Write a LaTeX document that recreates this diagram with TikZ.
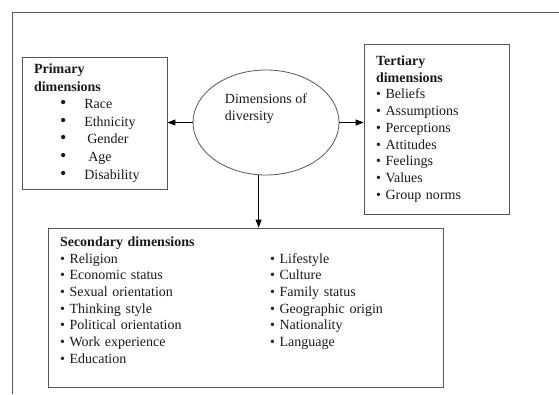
\documentclass[tikz,border=0pt]{standalone}
\usepackage{fontspec}
\setmainfont{Liberation Serif}
\usetikzlibrary{shapes.geometric}
\usetikzlibrary{arrows.meta}
\definecolor{rahmen}{RGB}{85,85,85}
\definecolor{schrift}{RGB}{25,25,25}
\newcommand{\pitem}[1]{\hspace*{26pt}{\fontsize{18}{17.6}\selectfont\textbullet}\hspace{18pt}#1}
\newcommand{\titem}[1]{\textbullet~#1}

\begin{document}
\begin{tikzpicture}[x=1pt, y=-1pt, schrift,
    dimbox/.style={draw=rahmen, line width=0.8pt, rectangle, inner xsep=12pt, inner ysep=0pt, align=left},
    dimel/.style={draw=rahmen, line width=0.8pt, ellipse, minimum width=146pt, minimum height=105pt, inner sep=0pt},
    pfeil/.style={draw=black, line width=0.9pt, -{Triangle[length=8pt, width=6pt]}}]

    \useasboundingbox (0,0) rectangle (559,394);
    % frame of the page (top and left only)
    \draw[rahmen, line width=0.8pt] (559,12.5) -| (12,394);

    \node[dimel] (dims) at (266,122.5) {};
    \node[align=left, font=\fontsize{14}{17}\selectfont] (dimstext) at ([yshift=14pt]dims.center) {Dimensions of\\diversity};

    \node[dimbox, minimum width=145pt, minimum height=132pt, text width=121pt,
          font=\fontsize{14}{17.6}\selectfont] (prim) at (94.5,123)
        {\textbf{Primary}\\\textbf{dimensions}\\\pitem{Race}\\\pitem{Ethnicity}\\\pitem{\hspace{3pt}Gender}\\\pitem{\hspace{4pt}Age}\\\pitem{Disability}};

    \node[dimbox, minimum width=145pt, minimum height=170pt, text width=121pt,
          font=\fontsize{14}{16.7}\selectfont] (tert) at (436.5,129)
        {\textbf{Tertiary}\\\textbf{dimensions}\\\titem{Beliefs}\\\titem{Assumptions}\\\titem{Perceptions}\\\titem{Attitudes}\\\titem{Feelings}\\\titem{Values}\\\titem{Group norms}};

    \node[dimbox, minimum width=395pt, minimum height=159pt, text width=371pt,
          font=\fontsize{14}{16.7}\selectfont] (sec) at (245.5,307.5)
        {\begin{tabular}{@{}p{210pt}@{}l@{}}
            \textbf{Secondary dimensions} & \\
            \titem{Religion} & \titem{Lifestyle} \\
            \titem{Economic status} & \titem{Culture} \\
            \titem{Sexual orientation} & \titem{Family status} \\
            \titem{Thinking style} & \titem{Geographic origin} \\
            \titem{Political orientation} & \titem{Nationality} \\
            \titem{Work experience} & \titem{Language} \\
            \titem{Education} & \\[12pt]
        \end{tabular}};

    \draw[pfeil] (dims.west) -- (prim.east |- dims.west);
    \draw[pfeil] (dims.east) -- (tert.west |- dims.east);
    \draw[pfeil] (dims.-98) -- (dims.-98 |- sec.north);

\end{tikzpicture}
\end{document}
